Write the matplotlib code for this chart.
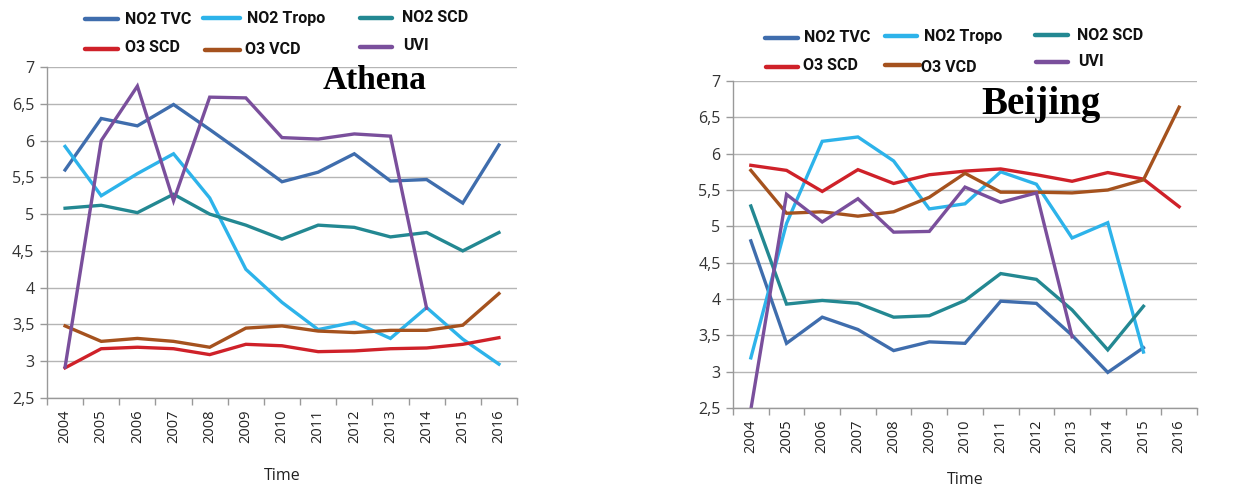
import matplotlib
matplotlib.use("Agg")
import matplotlib.pyplot as plt
from matplotlib.lines import Line2D
import numpy as np

years = ["2004", "2005", "2006", "2007", "2008", "2009", "2010",
         "2011", "2012", "2013", "2014", "2015", "2016"]
series_names = ["NO2 TVC", "NO2 Tropo", "NO2 SCD", "O3 SCD", "O3 VCD", "UVI"]

# Athena
ath_no2_tvc = [5.6, 6.3, 6.2, 6.49, 6.15, 5.8, 5.44, 5.57, 5.82, 5.45, 5.47, 5.15, 5.94]
ath_no2_tropo = [5.92, 5.25, 5.55, 5.82, 5.22, 4.25, 3.8, 3.43, 3.53, 3.31, 3.73, 3.3, 2.96]
ath_no2_scd = [5.08, 5.12, 5.02, 5.27, 5.0, 4.85, 4.66, 4.85, 4.82, 4.69, 4.75, 4.5, 4.75]
ath_o3_scd = [2.91, 3.17, 3.19, 3.17, 3.09, 3.23, 3.21, 3.13, 3.14, 3.17, 3.18, 3.23, 3.32]
ath_o3_vcd = [3.48, 3.27, 3.31, 3.27, 3.19, 3.45, 3.48, 3.41, 3.39, 3.42, 3.42, 3.49, 3.92]
ath_uvi = [2.92, 6.0, 6.74, 5.18, 6.59, 6.58, 6.04, 6.02, 6.09, 6.06, 3.72, None, None]

# Beijing
bei_no2_tvc = [4.8, 3.39, 3.75, 3.58, 3.29, 3.41, 3.39, 3.97, 3.94, 3.5, 2.99, 3.33, None]
bei_no2_tropo = [3.19, 5.04, 6.17, 6.23, 5.9, 5.24, 5.31, 5.75, 5.58, 4.84, 5.05, 3.27, None]
bei_no2_scd = [5.28, 3.93, 3.98, 3.94, 3.75, 3.77, 3.98, 4.35, 4.27, 3.85, 3.3, 3.9, None]
bei_o3_scd = [5.84, 5.77, 5.48, 5.78, 5.59, 5.71, 5.76, 5.79, 5.71, 5.62, 5.74, 5.65, 5.27]
bei_o3_vcd = [5.77, 5.18, 5.2, 5.14, 5.2, 5.4, 5.73, 5.47, 5.47, 5.46, 5.5, 5.64, 6.64]
bei_uvi = [2.48, 5.44, 5.06, 5.38, 4.92, 4.93, 5.54, 5.33, 5.46, 3.48, None, None, None]

yticks = [2.5, 3, 3.5, 4, 4.5, 5, 5.5, 6, 6.5, 7]
ytick_labels = ["2,5", "3", "3,5", "4", "4,5", "5", "5,5", "6", "6,5", "7"]

colors = ["#3F6DAD", "#2DB3EA", "#238892", "#CF2129", "#A5521E", "#7A4F9C"]

W, H = 1244, 487
fig = plt.figure(figsize=(W / 100, H / 100), dpi=100)
fig.patch.set_facecolor("white")

def px_axes(x0, x1, ytop, ybot):
    return fig.add_axes([x0 / W, (H - ybot) / H, (x1 - x0) / W, (ybot - ytop) / H])

def to_arr(v):
    return np.array([np.nan if a is None else a for a in v], dtype=float)

def draw(ax, data, title, tx, ty, tsize, xlabelpad):
    x = np.arange(len(years))
    for vals, c, n in zip(data, colors, series_names):
        ax.plot(x, to_arr(vals), color=c, lw=2.4, label=n, solid_joinstyle="miter")
    ax.set_xlim(-0.5, len(years) - 0.5)
    ax.set_ylim(2.5, 7)
    ax.set_yticks(yticks)
    ax.set_yticklabels(ytick_labels, fontsize=11.5, family="Open Sans", color="#333333")
    ax.set_xticks(x)
    ax.set_xticklabels(years, rotation=90, fontsize=10.5, family="Open Sans", color="#222222")
    ax.set_xticks(np.arange(-0.5, len(years)), minor=True)
    ax.tick_params(axis="x", which="major", length=0, pad=8)
    ax.tick_params(axis="x", which="minor", length=5, color="#999999", width=1)
    ax.tick_params(axis="y", length=5, color="#999999", width=1, pad=4)
    ax.grid(axis="y", color="#B5B5B5", lw=1)
    ax.set_axisbelow(True)
    for s in ["top", "right"]:
        ax.spines[s].set_visible(False)
    for s in ["left", "bottom"]:
        ax.spines[s].set_color("#999999")
        ax.spines[s].set_linewidth(1)
    ax.set_xlabel("Time", fontsize=11.5, family="Open Sans", color="#222222", labelpad=xlabelpad)
    ax.text(tx, ty, title, transform=ax.transAxes, family="Liberation Serif",
            fontweight="bold", fontsize=tsize, ha="center", va="center")

def manual_legend(entries):
    # entries: (line_x0, line_x1, line_y, text_x, text_y) in pixels, in series order
    for (lx0, lx1, ly, tx, ty), c, n in zip(entries, colors, series_names):
        fig.add_artist(Line2D([lx0 / W, lx1 / W], [1 - ly / H, 1 - ly / H],
                              transform=fig.transFigure, color=c, lw=3.2,
                              solid_capstyle="round"))
        fig.text(tx / W, 1 - ty / H, n, ha="left", va="center",
                 family=["Liberation Sans Narrow", "Roboto"], fontweight="bold",
                 fontsize=11.5, color="#111111")

ax1 = px_axes(47, 517, 67, 398)
draw(ax1, [ath_no2_tvc, ath_no2_tropo, ath_no2_scd, ath_o3_scd, ath_o3_vcd, ath_uvi],
     "Athena", 0.698, 0.958, 24, 18)
manual_legend([
    (85, 118, 19, 125, 20),
    (203, 240, 18, 247, 18),
    (360, 392, 18, 402, 17),
    (85, 118, 49, 125, 48),
    (205, 240, 50, 245, 50),
    (360, 392, 47, 403, 46),
])

ax2 = px_axes(733, 1197, 81, 408)
draw(ax2, [bei_no2_tvc, bei_no2_tropo, bei_no2_scd, bei_o3_scd, bei_o3_vcd, bei_uvi],
     "Beijing", 0.664, 0.927, 28, 14)
manual_legend([
    (765, 798, 38, 804, 38),
    (885, 917, 36, 924, 36),
    (1035, 1068, 35, 1077, 35),
    (766, 798, 67, 803, 65),
    (885, 920, 65, 921, 67),
    (1036, 1068, 62, 1078, 62),
])

fig.savefig("out.png", dpi=100, facecolor="white")
